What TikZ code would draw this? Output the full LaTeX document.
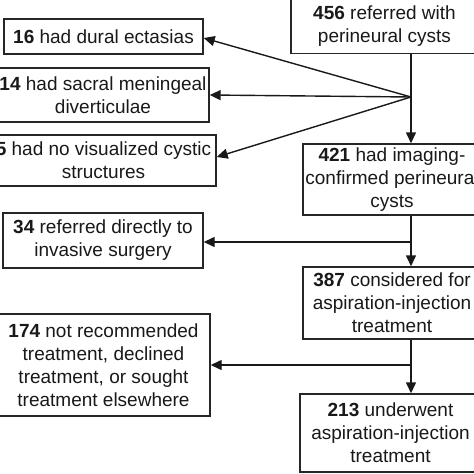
\documentclass[tikz,border=0pt]{standalone}
\usepackage{fontspec}
\setmainfont{Liberation Sans}
\usetikzlibrary{arrows.meta}
\begin{document}
\begin{tikzpicture}[x=1pt,y=-1pt,
  box/.style={draw=black!85, line width=1.4pt, inner sep=0pt, align=center, text=black!90, font=\fontsize{19}{23}\selectfont},
  arr/.style={line width=1.4pt, draw=black!90, -{Triangle[length=11pt,width=10pt]}},
  ln/.style={line width=1.4pt, draw=black!90}]
\useasboundingbox (0,0) rectangle (474,474);
\clip (0,0) rectangle (474,474);
\fill[white] (0,0) rectangle (474,474);
% right column
\node[box, minimum width=187pt, minimum height=55pt] (A) at (384.5,26) {\textbf{456} referred with\\perineural cysts};
\node[box, minimum width=178pt, minimum height=71pt] (G) at (392,179.5) {\textbf{421} had imaging-\\confirmed perineural\\cysts};
\node[box, minimum width=178pt, minimum height=72pt] (H) at (392,303) {\textbf{387} considered for\\aspiration-injection\\treatment};
\node[box, minimum width=181pt, minimum height=78pt] (I) at (390.5,433) {\textbf{213} underwent\\aspiration-injection\\treatment};
% left column
\node[box, minimum width=199pt, minimum height=35pt] (B) at (103.5,36.5) {\textbf{16} had dural ectasias};
\node[box, minimum width=212pt, minimum height=54pt] (C) at (103,95) {\textbf{14} had sacral meningeal\\diverticulae};
\node[box, minimum width=225pt, minimum height=51pt] (D) at (103.5,160.5) {\textbf{5} had no visualized cystic\\structures};
\node[box, minimum width=200pt, minimum height=55pt] (E) at (103,240.5) {\textbf{34} referred directly to\\invasive surgery};
\node[box, minimum width=213pt, minimum height=102pt] (F) at (103.5,365) {\textbf{174} not recommended\\treatment, declined\\treatment, or sought\\treatment elsewhere};
% junctions
\coordinate (j1) at (411,97);
\coordinate (j2) at (411,242);
\coordinate (j3) at (411,365);
% connectors
\draw[arr] (j1 |- A.south) -- (j1 |- G.north);
\draw[arr] (j1) -- ([yshift=-1.5pt]B.east);
\draw[arr] (j1) -- (C.east);
\draw[arr] (j1) -- ([yshift=3.5pt]D.east);
\draw[arr] (j2 |- G.south) -- (j2 |- H.north);
\draw[arr] (j2) -- (j2 -| E.east);
\draw[arr] (j3 |- H.south) -- (j3 |- I.north);
\draw[arr] (j3) -- (j3 -| F.east);
\end{tikzpicture}
\end{document}
